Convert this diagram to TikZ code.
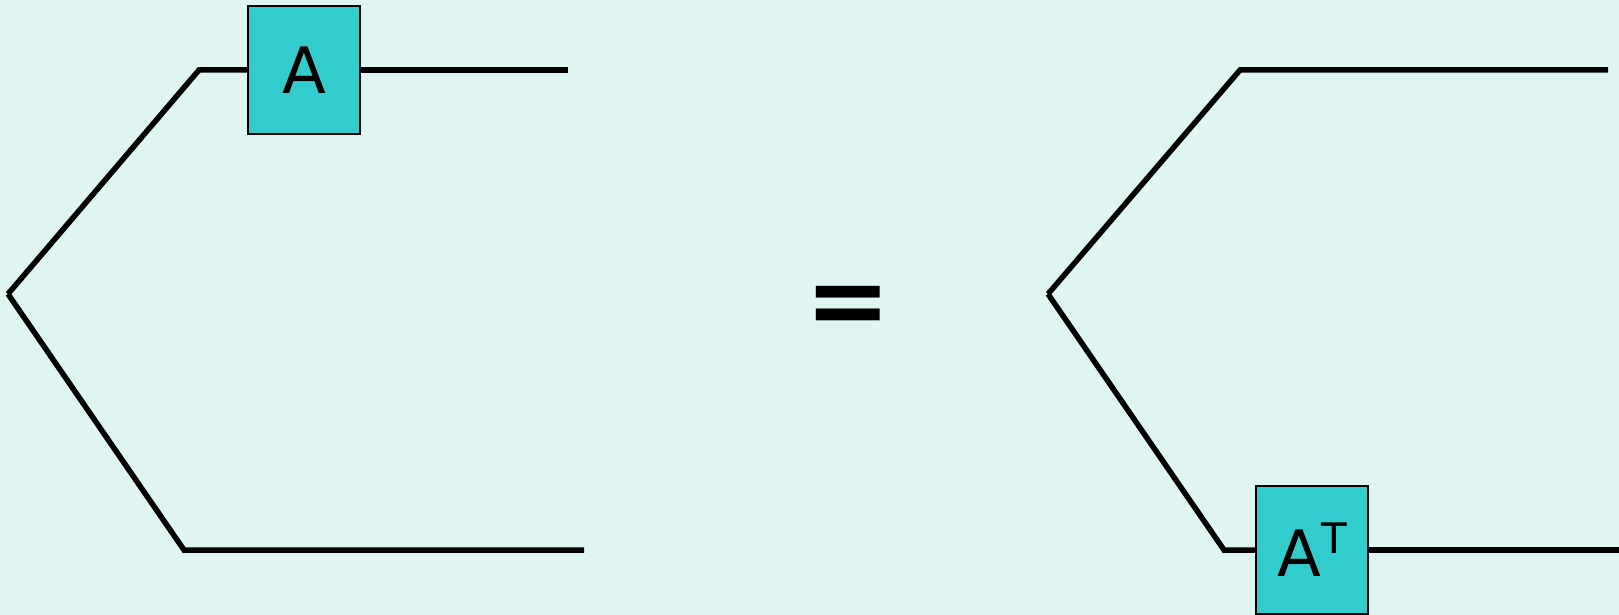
\documentclass[tikz,border=0pt]{standalone}
\usepackage{fontspec}
\setmainfont{DejaVu Sans}
\usepackage{tikz}
\usetikzlibrary{positioning,calc}
\usepackage{xcolor}
\definecolor{bgmint}{RGB}{222,245,241}
\definecolor{boxteal}{RGB}{51,204,204}

\begin{document}
\begin{tikzpicture}[
  x=1pt, y=-1pt,
  gate/.style={draw, line width=2pt, fill=boxteal, minimum width=112pt, minimum height=128pt, inner sep=0pt, font=\fontsize{64}{64}\selectfont},
  wire/.style={line width=5.5pt}]
\fill[bgmint] (0,0) rectangle (1619,615);
\useasboundingbox (0,0) rectangle (1619,615);
% left side
\coordinate (lv) at (8,294);
\coordinate (lu) at (199,70);
\coordinate (lb) at (184,550);
\coordinate (lue) at (568,70);
\coordinate (lbe) at (584,550);
\node[gate] (a) at (304,70) {A};
\draw[wire] (lv) -- (lu) -- (a.west);
\draw[wire] (a.east) -- (lue);
\draw[wire] (lv) -- (lb) -- (lbe);
% equals
\node[font=\fontsize{102}{102}\selectfont\bfseries] (eq) at (848.5,311) {=};
% right side
\coordinate (rv) at (1048,294);
\coordinate (ru) at (1240,70);
\coordinate (rb) at (1224,550);
\coordinate (rue) at (1608,70);
\coordinate (rbe) at (1619,550);
\node[gate] (at) at (1312,550) {A\raisebox{0.36em}{\fontsize{42}{42}\selectfont T}};
\draw[wire] (rv) -- (ru) -- (rue);
\draw[wire] (rv) -- (rb) -- (at.west);
\draw[wire] (at.east) -- (rbe);
\end{tikzpicture}
\end{document}
